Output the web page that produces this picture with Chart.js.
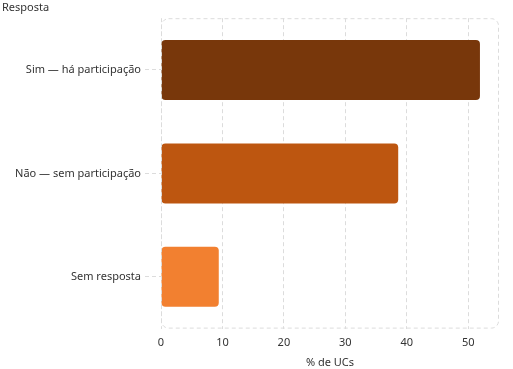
<!DOCTYPE html>
<html>
<head>
  <title>Resposta</title>
  <script src="https://cdn.jsdelivr.net/npm/chart.js"></script>
  <style>
    html, body { margin: 0; padding: 0; background: #fff; }
    #wrap { width: 513px; height: 369px; }
  </style>
</head>
<body>
  <div id="wrap"><canvas id="respostaChart"></canvas></div>

  <script>
    const categorias = ['Sim — há participação', 'Não — sem participação', 'Sem resposta'];
    const percentuais = [51.9, 38.6, 9.4];
    const cores = ['#78370b', '#bd5610', '#f28030'];

    // moldura tracejada com cantos arredondados em volta da área do gráfico
    const moldura = {
      id: 'moldura',
      afterDatasetsDraw(chart) {
        const a = chart.chartArea;
        const ctx = chart.ctx;
        ctx.save();
        ctx.strokeStyle = '#dcdcdc';
        ctx.lineWidth = 1;
        ctx.setLineDash([4, 3]);
        ctx.beginPath();
        ctx.roundRect(a.left + 0.5, a.top + 0.5, a.right - a.left - 1, a.bottom - a.top - 1, 7);
        ctx.stroke();
        ctx.restore();
      }
    };

    Chart.defaults.font.family = "'Noto Sans', sans-serif";
    Chart.defaults.font.size = 11;
    Chart.defaults.color = '#333';

    const ctx = document.getElementById('respostaChart').getContext('2d');
    new Chart(ctx, {
      type: 'bar',
      data: {
        labels: categorias,
        datasets: [{
          data: percentuais,
          backgroundColor: cores,
          borderRadius: 4,
          borderSkipped: false,
          categoryPercentage: 1,
          barPercentage: 0.58
        }]
      },
      options: {
        indexAxis: 'y',
        responsive: true,
        maintainAspectRatio: false,
        animation: false,
        layout: { padding: { left: 2, right: 14, top: 0, bottom: 0 } },
        plugins: {
          legend: { display: false },
          tooltip: { enabled: false },
          title: {
            display: true,
            text: 'Resposta',
            align: 'start',
            font: { size: 11, weight: 'normal' },
            color: '#333',
            padding: { top: 1, bottom: 4 }
          }
        },
        scales: {
          x: {
            min: 0,
            max: 55,
            ticks: { stepSize: 10, includeBounds: false, padding: 8 },
            grid: { color: '#dcdcdc', drawTicks: false },
            border: { display: false, dash: [4, 3] },
            title: { display: true, text: '% de UCs', padding: { top: -2, bottom: 0 } }
          },
          y: {
            afterFit(scale) { scale.width = 159; },
            ticks: { padding: 4 },
            grid: {
              offset: false,
              drawOnChartArea: false,
              tickLength: 16,
              tickColor: '#dcdcdc',
              tickBorderDash: [4, 3]
            },
            border: { display: false }
          }
        }
      },
      plugins: [moldura]
    });
  </script>
</body>
</html>
